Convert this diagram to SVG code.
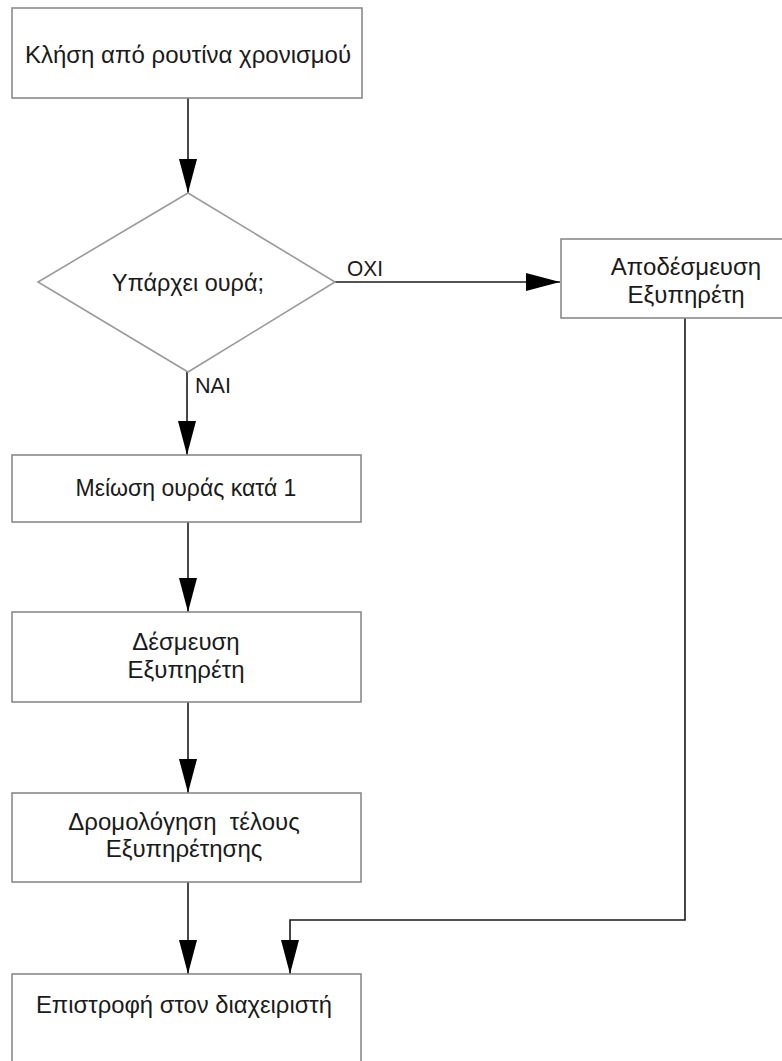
<svg xmlns="http://www.w3.org/2000/svg" width="782" height="1061" viewBox="0 0 782 1061">
  <style>
    .box { fill: #ffffff; stroke: #8a8a8a; stroke-width: 1.6; }
    .dia { fill: #ffffff; stroke: #9a9a9a; stroke-width: 1.6; }
    .wire { fill: none; stroke: #1a1a1a; stroke-width: 1.6; }
    .lbl { font-family: "Liberation Sans", Arial, sans-serif; fill: #1a1a1a; text-anchor: middle; }
    .tag { font-family: "Liberation Sans", Arial, sans-serif; fill: #1a1a1a; font-size: 22px; }
  </style>
  <defs>
    <marker id="head" markerUnits="userSpaceOnUse" markerWidth="36" markerHeight="20" refX="34" refY="9" orient="auto">
      <path d="M0,0 L34,9 L0,18 Z" fill="#000000"/>
    </marker>
  </defs>
  <rect width="782" height="1061" fill="#ffffff"/>

  <!-- connectors -->
  <g id="connectors">
    <line class="wire" x1="188" y1="98" x2="188" y2="193" marker-end="url(#head)"/>
    <line class="wire" x1="335" y1="282" x2="560" y2="282" marker-end="url(#head)"/>
    <line class="wire" x1="187" y1="372" x2="187" y2="455" marker-end="url(#head)"/>
    <line class="wire" x1="188" y1="522" x2="188" y2="612" marker-end="url(#head)"/>
    <line class="wire" x1="188" y1="702" x2="188" y2="793" marker-end="url(#head)"/>
    <line class="wire" x1="188" y1="882" x2="188" y2="974" marker-end="url(#head)"/>
    <polyline class="wire" points="685,318 685,920 290,920 290,974" marker-end="url(#head)"/>
    <text class="tag" x="347" y="276" textLength="36" lengthAdjust="spacingAndGlyphs">ΟΧΙ</text>
    <text class="tag" x="195" y="393" textLength="36" lengthAdjust="spacingAndGlyphs">ΝΑΙ</text>
  </g>

  <!-- start -->
  <g id="n-start">
    <rect class="box" x="12" y="8" width="350" height="90"/>
    <text class="lbl" x="188" y="63" font-size="24">Κλήση από ρουτίνα χρονισμού</text>
  </g>

  <!-- decision -->
  <g id="n-queue">
    <polygon class="dia" points="188,193 335,282 188,372 38,282"/>
    <text class="lbl" x="188" y="291" font-size="23" textLength="152" lengthAdjust="spacingAndGlyphs">Υπάρχει ουρά;</text>
  </g>

  <!-- release server -->
  <g id="n-release">
    <rect class="box" x="561" y="239" width="260" height="79"/>
    <text class="lbl" x="686" y="275" font-size="24">Αποδέσμευση</text>
    <text class="lbl" x="686" y="303" font-size="24">Εξυπηρέτη</text>
  </g>

  <!-- decrement queue -->
  <g id="n-decrement">
    <rect class="box" x="12" y="455" width="349" height="67"/>
    <text class="lbl" x="186" y="496" font-size="23">Μείωση ουράς κατά 1</text>
  </g>

  <!-- reserve server -->
  <g id="n-reserve">
    <rect class="box" x="12" y="612" width="349" height="90"/>
    <text class="lbl" x="186" y="650" font-size="24">Δέσμευση</text>
    <text class="lbl" x="186" y="678" font-size="24">Εξυπηρέτη</text>
  </g>

  <!-- schedule end of service -->
  <g id="n-schedule">
    <rect class="box" x="12" y="793" width="349" height="89"/>
    <text class="lbl" x="184" y="830" font-size="24" xml:space="preserve">Δρομολόγηση  τέλους</text>
    <text class="lbl" x="184" y="857" font-size="24">Εξυπηρέτησης</text>
  </g>

  <!-- return -->
  <g id="n-return">
    <rect class="box" x="12" y="974" width="349" height="100"/>
    <text class="lbl" x="184" y="1013" font-size="24" textLength="296" lengthAdjust="spacingAndGlyphs">Επιστροφή στον διαχειριστή</text>
  </g>
</svg>
